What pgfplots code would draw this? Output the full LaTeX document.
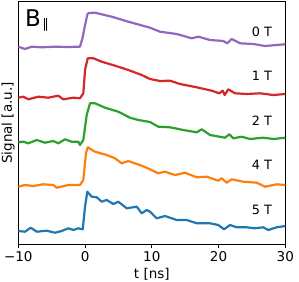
\documentclass[border=0pt]{standalone}
\usepackage{fontspec}
\setmainfont{DejaVu Sans}
\usepackage{pgfplots}
\pgfplotsset{compat=1.18}
\definecolor{tabblue}{HTML}{1F77B4}
\definecolor{taborange}{HTML}{FF7F0E}
\definecolor{tabgreen}{HTML}{2CA02C}
\definecolor{tabred}{HTML}{D62728}
\definecolor{tabpurple}{HTML}{9467BD}
\begin{document}
\begin{tikzpicture}
\begin{axis}[
  scale only axis,
  width=267pt, height=242.6pt,
  xmin=-10, xmax=30, ymin=0.07, ymax=24.33,
  xtick={-10,0,10,20,30},
  xticklabels={−10,0,10,20,30},
  ytick=\empty,
  tick align=outside,
  major tick length=4pt,
  xtick pos=bottom,
  axis line style={line width=0.9pt},
  every tick/.style={black, line width=0.9pt},
  tick label style={font=\fontsize{13.5}{14}\selectfont},
  label style={font=\fontsize{13.5}{14}\selectfont},
  xlabel={t [ns]},
  ylabel={Signal [a.u.]},
  xlabel style={yshift=1pt},
  ylabel style={yshift=-4pt},
  every axis plot/.append style={line width=2.2pt, line join=round},
  clip=true,
]
% 0 T
\addplot[tabpurple] coordinates {
(-10,19.83)(-9.0,19.6)(-7.99,19.83)(-6.49,19.77)(-4.5,19.83)(-2.51,19.8)(-1.01,19.83)(-0.76,19.83)
(-0.38,20.7)(0,22.0)(0.37,23.1)(0.59,23.2)(1.49,23.23)(3.99,22.83)(6.48,22.33)(9.73,21.73)
(11.23,21.33)(13.73,21.1)(15.97,20.67)(16.97,20.83)(18.72,20.5)(20.71,20.4)(21.31,20.17)(21.97,20.6)
(23.22,20.17)(25.21,20.1)(26.96,19.9)(28.71,20.0)(29.96,20.07)(30,20.07)};
% 1 T
\addplot[tabred] coordinates {
(-10,14.73)(-9.25,14.83)(-8.5,14.57)(-7.0,14.83)(-5.51,14.73)(-4.01,14.93)(-3.26,14.57)(-1.76,14.73)
(-0.76,14.67)(-0.26,15.17)(0,17.5)(0.4,18.67)(1.24,18.67)(2.49,18.33)(4.49,17.93)(6.48,17.5)
(8.49,17.0)(9.73,16.6)(11.23,16.4)(12.73,16.43)(14.23,16.1)(16.73,15.77)(18.97,15.43)(20.11,15.17)
(20.62,15.43)(20.92,15.0)(21.46,15.57)(22.46,15.17)(24.22,15.1)(26.21,15.17)(28.2,15.0)(30,15.1)};
% 2 T
\addplot[tabgreen] coordinates {
(-10,10.27)(-9.25,10.33)(-8.5,10.17)(-7.24,10.5)(-6.0,10.23)(-4.76,10.4)(-4.01,10.17)(-3.0,10.57)
(-2.0,10.33)(-1.01,10.33)(-0.76,10.0)(-0.26,10.5)(0.25,13.0)(0.74,14.17)(1.49,14.17)(2.99,13.73)
(4.98,13.33)(6.73,12.73)(7.98,12.5)(9.73,12.3)(10.97,11.83)(12.73,11.77)(14.72,11.5)(16.73,11.27)
(17.48,11.57)(18.72,11.0)(20.97,10.73)(21.61,11.07)(22.21,10.67)(23.47,10.83)(24.71,10.6)(26.7,10.73)
(28.2,10.6)(30,10.73)};
% 4 T
\addplot[taborange] coordinates {
(-10,5.83)(-9.0,6.0)(-7.75,5.9)(-6.25,6.07)(-4.76,6.0)(-4.25,5.73)(-2.51,6.0)(-0.76,6.0)
(-0.26,6.5)(0.14,9.17)(0.4,9.77)(1.49,9.33)(3.24,9.0)(4.49,8.67)(5.49,8.17)(6.48,8.4)
(8.49,7.93)(9.73,7.57)(10.97,7.17)(11.98,7.33)(13.48,7.0)(14.97,7.23)(16.73,6.77)(18.23,6.83)
(19.96,6.43)(20.47,6.67)(21.22,6.23)(21.97,6.57)(23.71,6.33)(25.72,6.23)(26.96,5.83)(28.71,6.07)(30,6.0)};
% 5 T
\addplot[tabblue] coordinates {
(-10,1.4)(-9.0,1.33)(-8.14,1.73)(-7.24,1.33)(-5.75,1.43)(-4.5,1.23)(-3.5,1.4)(-2.51,1.67)
(-1.76,1.5)(-1.01,1.67)(-0.35,1.57)(0,3.83)(0.34,5.33)(1.0,4.83)(1.75,4.77)(2.49,4.33)
(3.24,4.5)(4.23,4.1)(4.98,4.33)(6.24,3.67)(7.74,3.83)(8.49,3.17)(9.24,3.5)(9.73,3.33)
(10.73,2.67)(11.98,2.9)(13.73,2.5)(15.23,2.5)(16.73,2.17)(18.72,2.17)(19.96,2.0)(20.82,1.57)
(21.72,2.0)(22.72,1.77)(24.22,1.77)(25.46,1.67)(26.7,1.77)(27.45,1.5)(28.71,1.77)(30,1.9)};
\node[font=\fontsize{12.8}{13}\selectfont] at (axis cs:26.5,21.3) {0 T};
\node[font=\fontsize{12.8}{13}\selectfont] at (axis cs:26.5,16.9) {1 T};
\node[font=\fontsize{12.8}{13}\selectfont] at (axis cs:26.5,12.4) {2 T};
\node[font=\fontsize{12.8}{13}\selectfont] at (axis cs:26.5,8.0) {4 T};
\node[font=\fontsize{12.8}{13}\selectfont] at (axis cs:26.5,3.5) {5 T};
\node[anchor=base west, inner sep=0pt] at (axis cs:-9.0,21.8)
  {\fontsize{23}{23}\selectfont B\hspace{1.5pt}\raisebox{-1.5pt}{\fontsize{13}{13}\selectfont ∥}};
\end{axis}
\pgfresetboundingbox
\path ([shift={(-18.3pt,-36.7pt)}]current axis.south west) rectangle ([shift={(13.7pt,1.7pt)}]current axis.north east);
\end{tikzpicture}
\end{document}
